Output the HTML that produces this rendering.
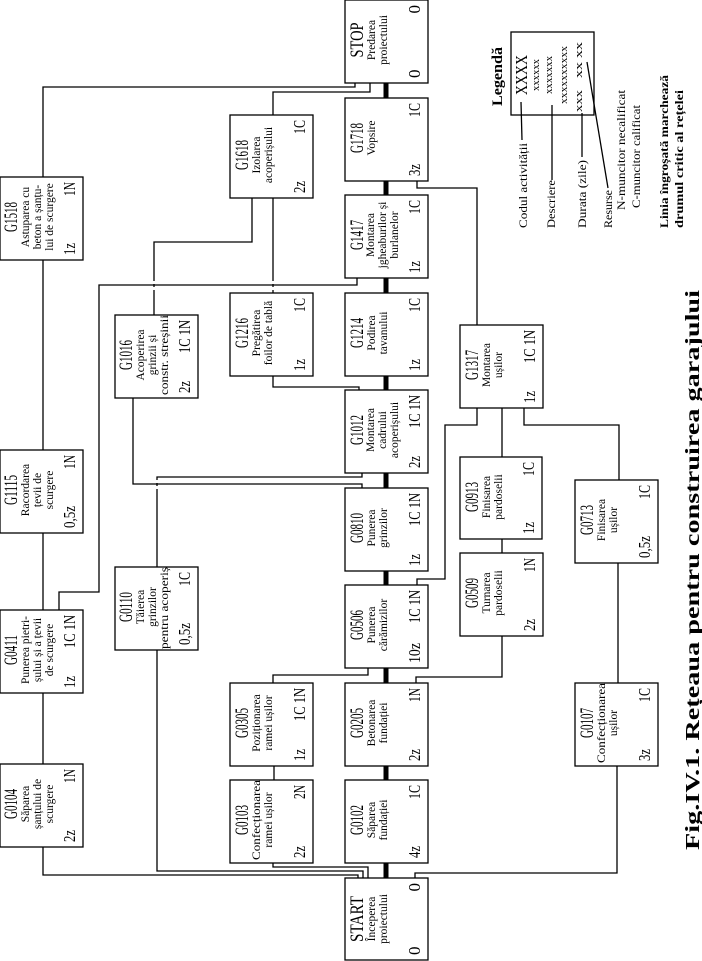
<!DOCTYPE html>
<html><head><meta charset="utf-8"><style>
html,body{margin:0;padding:0;background:#fff;}
svg{display:block;}
text{font-family:"Liberation Serif",serif;fill:#000;}
.c{font-size:19px;}
.d{font-size:11.5px;}
.b{font-size:17px;}
</style></head><body>
<svg width="702" height="961" viewBox="0 0 702 961" xmlns="http://www.w3.org/2000/svg">
<g fill="none" stroke="#000" stroke-width="1.3">
<line x1="386" y1="80" x2="386" y2="880" stroke-width="5"/>
<polyline points="43,846 43,875 358,875 358,878"/>
<polyline points="157,649 157,871 363,871 363,878"/>
<polyline points="273,862 273,867 368,867 368,878"/>
<polyline points="415,878 415,873 617,873 617,765"/>
<line x1="43" y1="764" x2="43" y2="692"/>
<line x1="43" y1="610" x2="43" y2="532"/>
<line x1="43" y1="450" x2="43" y2="259"/>
<polyline points="43,177 43,87 355,87 355,83"/>
<polyline points="59,610 59,592 99,592 99,285 357,285 357,278"/>
<polyline points="273,115 273,92 370,92 370,83"/>
<polyline points="154,315 154,242 252,242 252,197"/>
<line x1="273" y1="293" x2="273" y2="197"/>
<polyline points="273,375 273,387 359,387 359,390"/>
<polyline points="133,397 133,484 362,484 362,488"/>
<polyline points="157,567 157,477 362,477 362,472"/>
<polyline points="273,683 273,675 368,675 368,667"/>
<line x1="274" y1="780" x2="274" y2="765"/>
<polyline points="416,683 416,677 502,677 502,635"/>
<line x1="502" y1="553" x2="502" y2="538"/>
<line x1="502" y1="457" x2="502" y2="407"/>
<polyline points="417,585 417,579 445,579 445,425 477,425 477,407"/>
<polyline points="524,407 524,425 619,425 619,480"/>
<line x1="618" y1="562" x2="618" y2="683"/>
<polyline points="477,325 477,188 417,188 417,180"/>
<line x1="521" y1="102" x2="522" y2="140"/>
<line x1="552" y1="105" x2="552" y2="180"/>
<line x1="582" y1="113" x2="582" y2="157"/>
<line x1="587" y1="62" x2="608" y2="188"/>
</g>
<g fill="#fff">
<rect x="152" y="281" width="4" height="3"/><rect x="152" y="287" width="4" height="3"/>
<rect x="271" y="281" width="4" height="3"/><rect x="271" y="287" width="4" height="3"/>
<rect x="155" y="480" width="4" height="3"/><rect x="155" y="486" width="4" height="3"/>
</g>

<g id="boxes">
<g transform="translate(345,83) rotate(-90)"><rect x="0" y="0" width="83" height="83" fill="#fff" stroke="#000" stroke-width="1.3"/>
<text class="c" x="43" y="18" text-anchor="middle" textLength="35" lengthAdjust="spacingAndGlyphs">STOP</text>
<text class="d" x="43" y="30" text-anchor="middle">Predarea</text><text class="d" x="43" y="42" text-anchor="middle">proiectului</text>
<text class="b" x="5" y="75">0</text><text class="b" x="78" y="75" text-anchor="end">0</text></g>
<g transform="translate(345,181) rotate(-90)"><rect x="0" y="0" width="83" height="83" fill="#fff" stroke="#000" stroke-width="1.3"/>
<text class="c" x="43" y="18" text-anchor="middle" textLength="30" lengthAdjust="spacingAndGlyphs">G1718</text>
<text class="d" x="43" y="30" text-anchor="middle">Vopsire</text>
<text class="b" x="5" y="75" textLength="12" lengthAdjust="spacingAndGlyphs">3z</text><text class="b" x="78" y="75" text-anchor="end" textLength="14" lengthAdjust="spacingAndGlyphs">1C</text></g>
<g transform="translate(345,278) rotate(-90)"><rect x="0" y="0" width="83" height="83" fill="#fff" stroke="#000" stroke-width="1.3"/>
<text class="c" x="43" y="18" text-anchor="middle" textLength="30" lengthAdjust="spacingAndGlyphs">G1417</text>
<text class="d" x="43" y="29" text-anchor="middle">Montarea</text><text class="d" x="43" y="41" text-anchor="middle">jgheaburilor și</text><text class="d" x="43" y="53" text-anchor="middle">burlanelor</text>
<text class="b" x="5" y="75" textLength="12" lengthAdjust="spacingAndGlyphs">1z</text><text class="b" x="78" y="75" text-anchor="end" textLength="14" lengthAdjust="spacingAndGlyphs">1C</text></g>
<g transform="translate(345,376) rotate(-90)"><rect x="0" y="0" width="83" height="83" fill="#fff" stroke="#000" stroke-width="1.3"/>
<text class="c" x="43" y="18" text-anchor="middle" textLength="30" lengthAdjust="spacingAndGlyphs">G1214</text>
<text class="d" x="43" y="30" text-anchor="middle">Podirea</text><text class="d" x="43" y="42" text-anchor="middle">tavanului</text>
<text class="b" x="5" y="75" textLength="12" lengthAdjust="spacingAndGlyphs">1z</text><text class="b" x="78" y="75" text-anchor="end" textLength="14" lengthAdjust="spacingAndGlyphs">1C</text></g>
<g transform="translate(345,473) rotate(-90)"><rect x="0" y="0" width="83" height="83" fill="#fff" stroke="#000" stroke-width="1.3"/>
<text class="c" x="43" y="18" text-anchor="middle" textLength="30" lengthAdjust="spacingAndGlyphs">G1012</text>
<text class="d" x="43" y="29" text-anchor="middle">Montarea</text><text class="d" x="43" y="41" text-anchor="middle">cadrului</text><text class="d" x="43" y="53" text-anchor="middle">acoperișului</text>
<text class="b" x="5" y="75" textLength="12" lengthAdjust="spacingAndGlyphs">2z</text><text class="b" x="78" y="75" text-anchor="end" textLength="33" lengthAdjust="spacingAndGlyphs">1C 1N</text></g>
<g transform="translate(345,571) rotate(-90)"><rect x="0" y="0" width="83" height="83" fill="#fff" stroke="#000" stroke-width="1.3"/>
<text class="c" x="43" y="18" text-anchor="middle" textLength="30" lengthAdjust="spacingAndGlyphs">G0810</text>
<text class="d" x="43" y="30" text-anchor="middle">Punerea</text><text class="d" x="43" y="42" text-anchor="middle">grinzilor</text>
<text class="b" x="5" y="75" textLength="12" lengthAdjust="spacingAndGlyphs">1z</text><text class="b" x="78" y="75" text-anchor="end" textLength="33" lengthAdjust="spacingAndGlyphs">1C 1N</text></g>
<g transform="translate(345,668) rotate(-90)"><rect x="0" y="0" width="83" height="83" fill="#fff" stroke="#000" stroke-width="1.3"/>
<text class="c" x="43" y="18" text-anchor="middle" textLength="30" lengthAdjust="spacingAndGlyphs">G0506</text>
<text class="d" x="43" y="30" text-anchor="middle">Punerea</text><text class="d" x="43" y="42" text-anchor="middle">cărămizilor</text>
<text class="b" x="5" y="75" textLength="20" lengthAdjust="spacingAndGlyphs">10z</text><text class="b" x="78" y="75" text-anchor="end" textLength="33" lengthAdjust="spacingAndGlyphs">1C 1N</text></g>
<g transform="translate(345,766) rotate(-90)"><rect x="0" y="0" width="83" height="83" fill="#fff" stroke="#000" stroke-width="1.3"/>
<text class="c" x="43" y="18" text-anchor="middle" textLength="30" lengthAdjust="spacingAndGlyphs">G0205</text>
<text class="d" x="43" y="30" text-anchor="middle">Betonarea</text><text class="d" x="43" y="42" text-anchor="middle">fundației</text>
<text class="b" x="5" y="75" textLength="12" lengthAdjust="spacingAndGlyphs">2z</text><text class="b" x="78" y="75" text-anchor="end" textLength="14" lengthAdjust="spacingAndGlyphs">1N</text></g>
<g transform="translate(345,863) rotate(-90)"><rect x="0" y="0" width="83" height="83" fill="#fff" stroke="#000" stroke-width="1.3"/>
<text class="c" x="43" y="18" text-anchor="middle" textLength="30" lengthAdjust="spacingAndGlyphs">G0102</text>
<text class="d" x="43" y="30" text-anchor="middle">Săparea</text><text class="d" x="43" y="42" text-anchor="middle">fundației</text>
<text class="b" x="5" y="75" textLength="12" lengthAdjust="spacingAndGlyphs">4z</text><text class="b" x="78" y="75" text-anchor="end" textLength="14" lengthAdjust="spacingAndGlyphs">1C</text></g>
<g transform="translate(345,960) rotate(-90)"><rect x="0" y="0" width="82" height="83" fill="#fff" stroke="#000" stroke-width="1.3"/>
<text class="c" x="41" y="18" text-anchor="middle" textLength="46" lengthAdjust="spacingAndGlyphs">START</text>
<text class="d" x="41" y="30" text-anchor="middle">Începerea</text><text class="d" x="41" y="42" text-anchor="middle">proiectului</text>
<text class="b" x="5" y="75">0</text><text class="b" x="77" y="75" text-anchor="end">0</text></g>

<g transform="translate(0,260) rotate(-90)"><rect x="0" y="0" width="83" height="83" fill="#fff" stroke="#000" stroke-width="1.3"/>
<text class="c" x="43" y="17" text-anchor="middle" textLength="30" lengthAdjust="spacingAndGlyphs">G1518</text>
<text class="d" x="43" y="29" text-anchor="middle">Astuparea cu</text><text class="d" x="43" y="41" text-anchor="middle">beton a șanțu-</text><text class="d" x="43" y="53" text-anchor="middle">lui de scurgere</text>
<text class="b" x="5" y="75" textLength="12" lengthAdjust="spacingAndGlyphs">1z</text><text class="b" x="78" y="75" text-anchor="end" textLength="14" lengthAdjust="spacingAndGlyphs">1N</text></g>
<g transform="translate(0,533) rotate(-90)"><rect x="0" y="0" width="83" height="83" fill="#fff" stroke="#000" stroke-width="1.3"/>
<text class="c" x="43" y="17" text-anchor="middle" textLength="30" lengthAdjust="spacingAndGlyphs">G1115</text>
<text class="d" x="43" y="29" text-anchor="middle">Racordarea</text><text class="d" x="43" y="41" text-anchor="middle">țevii de</text><text class="d" x="43" y="53" text-anchor="middle">scurgere</text>
<text class="b" x="5" y="75" textLength="22" lengthAdjust="spacingAndGlyphs">0,5z</text><text class="b" x="78" y="75" text-anchor="end" textLength="14" lengthAdjust="spacingAndGlyphs">1N</text></g>
<g transform="translate(0,693) rotate(-90)"><rect x="0" y="0" width="83" height="83" fill="#fff" stroke="#000" stroke-width="1.3"/>
<text class="c" x="43" y="17" text-anchor="middle" textLength="30" lengthAdjust="spacingAndGlyphs">G0411</text>
<text class="d" x="43" y="29" text-anchor="middle">Punerea pietri-</text><text class="d" x="43" y="41" text-anchor="middle">șului și a țevii</text><text class="d" x="43" y="53" text-anchor="middle">de scurgere</text>
<text class="b" x="5" y="75" textLength="12" lengthAdjust="spacingAndGlyphs">1z</text><text class="b" x="78" y="75" text-anchor="end" textLength="33" lengthAdjust="spacingAndGlyphs">1C 1N</text></g>
<g transform="translate(0,847) rotate(-90)"><rect x="0" y="0" width="83" height="83" fill="#fff" stroke="#000" stroke-width="1.3"/>
<text class="c" x="43" y="17" text-anchor="middle" textLength="30" lengthAdjust="spacingAndGlyphs">G0104</text>
<text class="d" x="43" y="29" text-anchor="middle">Săparea</text><text class="d" x="43" y="41" text-anchor="middle">șanțului de</text><text class="d" x="43" y="53" text-anchor="middle">scurgere</text>
<text class="b" x="5" y="75" textLength="12" lengthAdjust="spacingAndGlyphs">2z</text><text class="b" x="78" y="75" text-anchor="end" textLength="14" lengthAdjust="spacingAndGlyphs">1N</text></g>

<g transform="translate(115,398) rotate(-90)"><rect x="0" y="0" width="83" height="83" fill="#fff" stroke="#000" stroke-width="1.3"/>
<text class="c" x="43" y="17" text-anchor="middle" textLength="30" lengthAdjust="spacingAndGlyphs">G1016</text>
<text class="d" x="43" y="29" text-anchor="middle">Acoperirea</text><text class="d" x="43" y="41" text-anchor="middle">grinzii și</text><text class="d" x="43" y="53" text-anchor="middle" textLength="80" lengthAdjust="spacingAndGlyphs">constr. streșinii</text>
<text class="b" x="5" y="75" textLength="12" lengthAdjust="spacingAndGlyphs">2z</text><text class="b" x="78" y="75" text-anchor="end" textLength="33" lengthAdjust="spacingAndGlyphs">1C 1N</text></g>
<g transform="translate(115,650) rotate(-90)"><rect x="0" y="0" width="83" height="83" fill="#fff" stroke="#000" stroke-width="1.3"/>
<text class="c" x="43" y="17" text-anchor="middle" textLength="30" lengthAdjust="spacingAndGlyphs">G0110</text>
<text class="d" x="43" y="29" text-anchor="middle">Tăierea</text><text class="d" x="43" y="41" text-anchor="middle">grinzilor</text><text class="d" x="42" y="53" text-anchor="middle" textLength="82" lengthAdjust="spacingAndGlyphs">pentru acoperiș</text>
<text class="b" x="5" y="75" textLength="22" lengthAdjust="spacingAndGlyphs">0,5z</text><text class="b" x="78" y="75" text-anchor="end" textLength="14" lengthAdjust="spacingAndGlyphs">1C</text></g>

<g transform="translate(230,198) rotate(-90)"><rect x="0" y="0" width="83" height="83" fill="#fff" stroke="#000" stroke-width="1.3"/>
<text class="c" x="43" y="18" text-anchor="middle" textLength="30" lengthAdjust="spacingAndGlyphs">G1618</text>
<text class="d" x="43" y="30" text-anchor="middle">Izolarea</text><text class="d" x="43" y="42" text-anchor="middle">acoperișului</text>
<text class="b" x="5" y="75" textLength="12" lengthAdjust="spacingAndGlyphs">2z</text><text class="b" x="78" y="75" text-anchor="end" textLength="14" lengthAdjust="spacingAndGlyphs">1C</text></g>
<g transform="translate(230,376) rotate(-90)"><rect x="0" y="0" width="83" height="83" fill="#fff" stroke="#000" stroke-width="1.3"/>
<text class="c" x="43" y="18" text-anchor="middle" textLength="30" lengthAdjust="spacingAndGlyphs">G1216</text>
<text class="d" x="43" y="30" text-anchor="middle">Pregătirea</text><text class="d" x="43" y="42" text-anchor="middle">foilor de tablă</text>
<text class="b" x="5" y="75" textLength="12" lengthAdjust="spacingAndGlyphs">1z</text><text class="b" x="78" y="75" text-anchor="end" textLength="14" lengthAdjust="spacingAndGlyphs">1C</text></g>
<g transform="translate(230,766) rotate(-90)"><rect x="0" y="0" width="83" height="83" fill="#fff" stroke="#000" stroke-width="1.3"/>
<text class="c" x="43" y="18" text-anchor="middle" textLength="30" lengthAdjust="spacingAndGlyphs">G0305</text>
<text class="d" x="43" y="30" text-anchor="middle">Poziționarea</text><text class="d" x="43" y="42" text-anchor="middle">ramei ușilor</text>
<text class="b" x="5" y="75" textLength="12" lengthAdjust="spacingAndGlyphs">1z</text><text class="b" x="78" y="75" text-anchor="end" textLength="33" lengthAdjust="spacingAndGlyphs">1C 1N</text></g>
<g transform="translate(230,863) rotate(-90)"><rect x="0" y="0" width="83" height="83" fill="#fff" stroke="#000" stroke-width="1.3"/>
<text class="c" x="43" y="18" text-anchor="middle" textLength="30" lengthAdjust="spacingAndGlyphs">G0103</text>
<text class="d" x="43" y="30" text-anchor="middle" textLength="80" lengthAdjust="spacingAndGlyphs">Confecționarea</text><text class="d" x="43" y="42" text-anchor="middle">ramei ușilor</text>
<text class="b" x="5" y="75" textLength="12" lengthAdjust="spacingAndGlyphs">2z</text><text class="b" x="78" y="75" text-anchor="end" textLength="14" lengthAdjust="spacingAndGlyphs">2N</text></g>

<g transform="translate(460,408) rotate(-90)"><rect x="0" y="0" width="83" height="83" fill="#fff" stroke="#000" stroke-width="1.3"/>
<text class="c" x="43" y="18" text-anchor="middle" textLength="30" lengthAdjust="spacingAndGlyphs">G1317</text>
<text class="d" x="43" y="30" text-anchor="middle">Montarea</text><text class="d" x="43" y="42" text-anchor="middle">ușilor</text>
<text class="b" x="5" y="75" textLength="12" lengthAdjust="spacingAndGlyphs">1z</text><text class="b" x="78" y="75" text-anchor="end" textLength="33" lengthAdjust="spacingAndGlyphs">1C 1N</text></g>
<g transform="translate(460,539) rotate(-90)"><rect x="0" y="0" width="82" height="82" fill="#fff" stroke="#000" stroke-width="1.3"/>
<text class="c" x="42" y="18" text-anchor="middle" textLength="30" lengthAdjust="spacingAndGlyphs">G0913</text>
<text class="d" x="42" y="30" text-anchor="middle">Finisarea</text><text class="d" x="42" y="42" text-anchor="middle">pardoselii</text>
<text class="b" x="5" y="74" textLength="12" lengthAdjust="spacingAndGlyphs">1z</text><text class="b" x="77" y="74" text-anchor="end" textLength="14" lengthAdjust="spacingAndGlyphs">1C</text></g>
<g transform="translate(460,636) rotate(-90)"><rect x="0" y="0" width="83" height="83" fill="#fff" stroke="#000" stroke-width="1.3"/>
<text class="c" x="43" y="18" text-anchor="middle" textLength="30" lengthAdjust="spacingAndGlyphs">G0509</text>
<text class="d" x="43" y="30" text-anchor="middle">Turnarea</text><text class="d" x="43" y="42" text-anchor="middle">pardoselii</text>
<text class="b" x="5" y="75" textLength="12" lengthAdjust="spacingAndGlyphs">2z</text><text class="b" x="78" y="75" text-anchor="end" textLength="14" lengthAdjust="spacingAndGlyphs">1N</text></g>

<g transform="translate(575,563) rotate(-90)"><rect x="0" y="0" width="83" height="83" fill="#fff" stroke="#000" stroke-width="1.3"/>
<text class="c" x="43" y="18" text-anchor="middle" textLength="30" lengthAdjust="spacingAndGlyphs">G0713</text>
<text class="d" x="43" y="30" text-anchor="middle">Finisarea</text><text class="d" x="43" y="42" text-anchor="middle">ușilor</text>
<text class="b" x="5" y="75" textLength="22" lengthAdjust="spacingAndGlyphs">0,5z</text><text class="b" x="78" y="75" text-anchor="end" textLength="14" lengthAdjust="spacingAndGlyphs">1C</text></g>
<g transform="translate(575,766) rotate(-90)"><rect x="0" y="0" width="83" height="83" fill="#fff" stroke="#000" stroke-width="1.3"/>
<text class="c" x="43" y="18" text-anchor="middle" textLength="30" lengthAdjust="spacingAndGlyphs">G0107</text>
<text class="d" x="43" y="30" text-anchor="middle" textLength="80" lengthAdjust="spacingAndGlyphs">Confecționarea</text><text class="d" x="43" y="42" text-anchor="middle">ușilor</text>
<text class="b" x="5" y="75" textLength="12" lengthAdjust="spacingAndGlyphs">3z</text><text class="b" x="78" y="75" text-anchor="end" textLength="14" lengthAdjust="spacingAndGlyphs">1C</text></g>
</g>

<text transform="translate(502,106) rotate(-90)" font-size="15" font-weight="bold" textLength="59" lengthAdjust="spacingAndGlyphs">Legendă</text>
<g transform="translate(511,115) rotate(-90)"><rect x="0" y="0" width="83" height="83" fill="none" stroke="#000" stroke-width="1.3"/>
<text x="40" y="16" font-size="17" text-anchor="middle" textLength="40" lengthAdjust="spacingAndGlyphs">XXXX</text>
<text x="40" y="28" font-size="11" text-anchor="middle" textLength="32" lengthAdjust="spacingAndGlyphs">xxxxxx</text>
<text x="40" y="41" font-size="11" text-anchor="middle" textLength="38" lengthAdjust="spacingAndGlyphs">xxxxxxx</text>
<text x="40" y="56" font-size="11" text-anchor="middle" textLength="58" lengthAdjust="spacingAndGlyphs">xxxxxxxxxx</text>
<text x="3" y="71" font-size="11" textLength="22" lengthAdjust="spacingAndGlyphs">xxx</text>
<text x="55" y="71" font-size="11" text-anchor="middle" textLength="36" lengthAdjust="spacingAndGlyphs">xx  xx</text>
</g>
<g font-size="12">
<text transform="translate(527,228) rotate(-90)" textLength="85" lengthAdjust="spacingAndGlyphs">Codul activității</text>
<text transform="translate(555,228) rotate(-90)" textLength="48" lengthAdjust="spacingAndGlyphs">Descriere</text>
<text transform="translate(586,228) rotate(-90)" textLength="68" lengthAdjust="spacingAndGlyphs">Durata (zile)</text>
<text transform="translate(612,228) rotate(-90)" textLength="38" lengthAdjust="spacingAndGlyphs">Resurse</text>
<text transform="translate(625,210) rotate(-90)" textLength="120" lengthAdjust="spacingAndGlyphs">N-muncitor necalificat</text>
<text transform="translate(640,208) rotate(-90)" textLength="103" lengthAdjust="spacingAndGlyphs">C-muncitor calificat</text>
</g>
<g font-size="12" font-weight="bold">
<text transform="translate(668,228) rotate(-90)" textLength="153" lengthAdjust="spacingAndGlyphs">Linia îngroșată marchează</text>
<text transform="translate(683,228) rotate(-90)" textLength="138" lengthAdjust="spacingAndGlyphs">drumul critic al rețelei</text>
</g>

<text transform="translate(699,850) rotate(-90)" font-size="20" font-weight="bold" textLength="560" lengthAdjust="spacingAndGlyphs">Fig.IV.1. Rețeaua pentru construirea garajului</text>
</svg>
</body></html>
